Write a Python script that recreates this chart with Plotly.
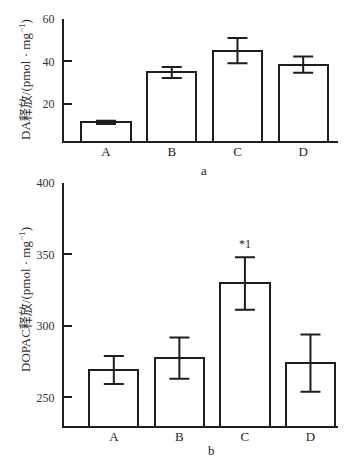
import plotly.graph_objects as go

categories = ["A", "B", "C", "D"]
da_values = [11.3, 34.8, 45.1, 38.5]
da_errors = [0.8, 2.6, 6.0, 3.8]
dopac_values = [269.1, 277.5, 329.7, 274.0]
dopac_errors = [9.8, 14.5, 18.4, 20.0]
da_ticks = [20, 40, 60]
dopac_ticks = [250, 300, 350, 400]

W, H = 361, 461
INK = "#1e1e1e"
SERIF = "Liberation Serif, Times New Roman, Noto Sans CJK SC, serif"

xs = list(range(len(categories)))
fig = go.Figure()

def add_bars(vals, errs, xa, ya):
    fig.add_trace(go.Bar(
        x=xs, y=vals, xaxis=xa, yaxis=ya, width=0.75,
        marker=dict(color="white", line=dict(color=INK, width=2)),
        error_y=dict(type="data", array=errs, visible=True, color=INK,
                     thickness=2, width=10),
        showlegend=False, hoverinfo="skip"))

add_bars(da_values, da_errors, "x", "y")
add_bars(dopac_values, dopac_errors, "x2", "y2")

def px_x(p):
    return p / W

def px_y(p):
    return 1 - p / H

line_common = dict(showline=True, linecolor=INK, linewidth=2, showgrid=False,
                   zeroline=False, automargin=False)
xfont = dict(family=SERIF, size=13, color=INK)
yfont = dict(family=SERIF, size=12, color="#333")

fig.update_layout(
    template="none",
    font=dict(family=SERIF, color="#1e1e1e"),
    width=W, height=H, margin=dict(l=0, r=0, t=0, b=0, pad=0, autoexpand=False),
    plot_bgcolor="white", paper_bgcolor="white", bargap=0,
    xaxis=dict(domain=[px_x(64), px_x(338)], range=[-0.64, 3.53], anchor="y",
               tickvals=xs, ticktext=categories, ticks="", tickfont=xfont,
               ticklabelstandoff=-3, **line_common),
    yaxis=dict(domain=[px_y(141), px_y(19)], range=[2.5, 60], anchor="x",
               tickvals=da_ticks, ticks="inside", ticklen=8, tickwidth=2,
               tickcolor=INK, tickfont=yfont, ticklabelstandoff=5, **line_common),
    xaxis2=dict(domain=[px_x(64), px_x(338)], range=[-0.76, 3.42], anchor="y2",
                tickvals=xs, ticktext=categories, ticks="", tickfont=xfont,
                ticklabelstandoff=-3, **line_common),
    yaxis2=dict(domain=[px_y(426), px_y(183)], range=[230, 400], anchor="x2",
                tickvals=dopac_ticks, ticks="inside", ticklen=8, tickwidth=2,
                tickcolor=INK, tickfont=yfont, ticklabelstandoff=5, **line_common),
)

ann_font = dict(family=SERIF, size=13, color="#333")
common_ann = dict(xref="paper", yref="paper", showarrow=False,
                  xanchor="center", yanchor="middle")
fig.add_annotation(x=px_x(25), y=px_y(80), text="DA释放/(pmol · mg<sup>−1</sup>)",
                   textangle=-90, font=ann_font, **common_ann)
fig.add_annotation(x=px_x(25), y=px_y(300), text="DOPAC释放/(pmol · mg<sup>−1</sup>)",
                   textangle=-90, font=ann_font, **common_ann)
fig.add_annotation(x=px_x(204), y=px_y(170), text="a",
                   font=dict(family=SERIF, size=13, color=INK), **common_ann)
fig.add_annotation(x=px_x(211), y=px_y(450), text="b",
                   font=dict(family=SERIF, size=13, color=INK), **common_ann)
fig.add_annotation(x=2, y=dopac_values[2] + dopac_errors[2], xref="x2", yref="y2",
                   text="*1", showarrow=False, yshift=13,
                   font=dict(family=SERIF, size=12, color="#1e1e1e"))

fig.write_html("out.html", config={"displayModeBar": False},
               post_script="document.body.style.margin='0px';"
                           "document.body.style.overflow='hidden';")
